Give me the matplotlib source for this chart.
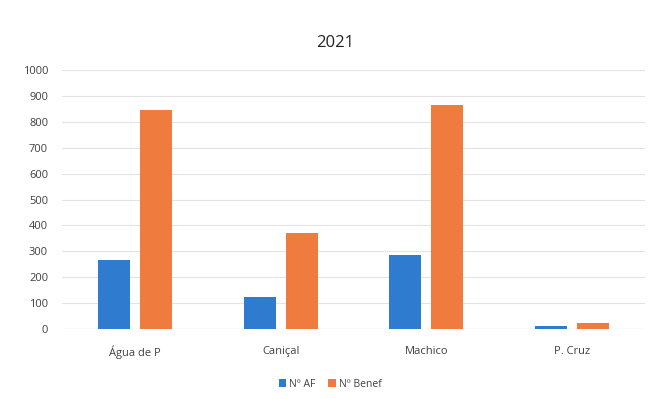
import numpy as np
import matplotlib.pyplot as plt

categories = ["Água de P", "Caniçal", "Machico", "P. Cruz"]
n_af = [265, 125, 285, 10]
n_benef = [845, 370, 865, 22]
series_names = ["Nº AF", "Nº Benef"]
yticks = list(range(0, 1001, 100))

blue = "#2E7BCF"
orange = "#F07B3F"

plt.rcParams["font.family"] = ["Open Sans", "DejaVu Sans"]

fig = plt.figure(figsize=(6.62, 3.99), dpi=100)
ax = fig.add_axes([0.0937, 0.1754, 0.8807, 0.6491])

x = np.arange(len(categories))
w = 0.22
off = 0.144
ax.bar(x - off, n_af, width=w, color=blue, label=series_names[0], zorder=3)
ax.bar(x + off, n_benef, width=w, color=orange, label=series_names[1], zorder=3)

ax.set_xlim(-0.5, len(categories) - 0.5)
ax.set_ylim(0, 1000)
ax.set_yticks(yticks)
ax.set_xticks(x)
ax.set_xticklabels(categories)
ax.tick_params(axis="both", length=0, labelsize=8, colors="#404040")
ax.tick_params(axis="x", pad=12)
ax.tick_params(axis="y", pad=10)
ax.grid(axis="y", color="#e3e3e3", linewidth=0.8, zorder=0)
ax.axhline(0, color="#d0d0d0", linewidth=0.8, zorder=2)
for s in ax.spines.values():
    s.set_visible(False)

fig.text(0.506, 0.893, "2021", ha="center", va="center", fontsize=12, color="#222222")

ax.legend(loc="upper center", bbox_to_anchor=(0.46, -0.155), ncol=2, frameon=False,
          fontsize=7.5, handlelength=0.7, handleheight=0.7, columnspacing=1.2,
          handletextpad=0.3, labelcolor="#404040")

fig.savefig("out.png", dpi=100)
